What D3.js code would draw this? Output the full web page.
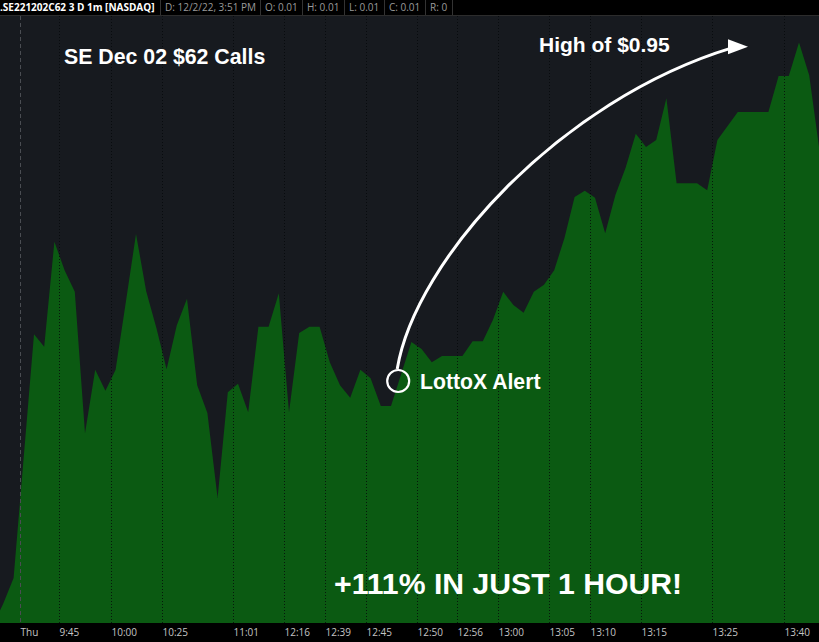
<!DOCTYPE html>
<html>
<head>
<meta charset="utf-8">
<script src="https://cdn.jsdelivr.net/npm/d3@7"></script>
<style>
  html, body { margin: 0; padding: 0; background: #000; }
  svg { display: block; }
</style>
</head>
<body>
<svg id="chart" width="819" height="642"></svg>
<script>
// ---- data (1-minute bars) ----
const prices = [
  0.116, 0.147, 0.183, 0.358, 0.533, 0.515, 0.666, 0.625, 0.594, 0.391,
  0.482, 0.452, 0.482, 0.579, 0.677, 0.595, 0.542, 0.483, 0.546, 0.584,
  0.460, 0.420, 0.298, 0.450, 0.462, 0.421, 0.544, 0.544, 0.592, 0.421,
  0.535, 0.544, 0.544, 0.493, 0.460, 0.442, 0.482, 0.470, 0.430, 0.430,
  0.476, 0.522, 0.512, 0.493, 0.502, 0.502, 0.502, 0.523, 0.523, 0.554,
  0.594, 0.575, 0.564, 0.594, 0.604, 0.625, 0.671, 0.730, 0.739, 0.729,
  0.678, 0.733, 0.772, 0.821, 0.802, 0.812, 0.872, 0.750, 0.750, 0.750,
  0.740, 0.812, 0.832, 0.852, 0.852, 0.852, 0.852, 0.904, 0.904, 0.952,
  0.905, 0.798
];
const tickLabels = ["Thu","9:45","10:00","10:25","11:01","12:16","12:39","12:45","12:50","12:56","13:00","13:05","13:10","13:15","13:25","13:40"];
const tickBars   = [2.6, 6.5, 11.5, 16.5, 23.5, 28.5, 32.5, 36.5, 41.5, 45.5, 49.5, 54.5, 58.5, 63.5, 70.5, 77.5];
const headerSymbol = ".SE221202C62 3 D 1m [NASDAQ]";
const headerItems = ["D: 12/2/22, 3:51 PM", "O: 0.01", "H: 0.01", "L: 0.01", "C: 0.01", "R: 0"];
const alertBar = 40;
const highValue = 0.95;
const titleText = "SE Dec 02 $62 Calls";
const highText = "High of $0.95";
const alertText = "LottoX Alert";
const gainText = "+111% IN JUST 1 HOUR!";

// ---- layout ----
const W = 819, H = 642;
const plotTop = 16, plotBottom = 623;
const svg = d3.select("#chart");

const x = d3.scaleLinear().domain([0, prices.length - 1]).range([-6.8, 819.4]);
const y = d3.scaleLinear().domain([0.12, 0.99]).range([622, 16]);

svg.append("defs").append("clipPath").attr("id", "plotClip")
  .append("rect").attr("x", 0).attr("y", plotTop).attr("width", W).attr("height", plotBottom - plotTop);

// background
svg.append("rect").attr("width", W).attr("height", H).attr("fill", "#000");
svg.append("rect").attr("x", 0).attr("y", plotTop).attr("width", W).attr("height", plotBottom - plotTop).attr("fill", "#171a1f");

const plot = svg.append("g").attr("clip-path", "url(#plotClip)");

// area
const area = d3.area()
  .x((d, i) => x(i))
  .y0(plotBottom)
  .y1(d => y(d));
plot.append("path").datum(prices).attr("d", area).attr("fill", "#0b5a12");

// grid lines
plot.selectAll("line.grid").data(tickBars).join("line")
  .attr("class", "grid")
  .attr("x1", d => Math.round(x(d)) + 0.5).attr("x2", d => Math.round(x(d)) + 0.5)
  .attr("y1", plotTop).attr("y2", plotBottom)
  .attr("stroke", (d, i) => i === 0 ? "#4a4d52" : "#05070a")
  .attr("stroke-width", 1)
  .attr("stroke-opacity", (d, i) => i === 0 ? 1 : 0.8)
  .attr("stroke-dasharray", (d, i) => i === 0 ? "4,3" : "1,2");

// bottom axis
const axisG = svg.append("g").attr("transform", `translate(0,${plotBottom})`);
axisG.append("rect").attr("width", W).attr("height", H - plotBottom).attr("fill", "#000");
axisG.selectAll("text").data(tickBars).join("text")
  .attr("x", d => Math.round(x(d)) + 0.5)
  .attr("y", 13)
  .attr("fill", "#c4c4c4")
  .attr("font-family", "'Open Sans', 'DejaVu Sans', sans-serif")
  .attr("font-size", 10)
  .text((d, i) => tickLabels[i]);

// header
const header = svg.append("g");
header.append("rect").attr("width", W).attr("height", plotTop).attr("fill", "#000");
header.append("line").attr("x1", 0).attr("x2", W).attr("y1", 15.5).attr("y2", 15.5).attr("stroke", "#2c2c2c");
const symT = header.append("text").attr("x", 0).attr("y", 11)
  .attr("fill", "#fff").attr("font-weight", "bold")
  .attr("font-family", "'Open Sans', 'DejaVu Sans', sans-serif").attr("font-size", 10)
  .text(headerSymbol);
let cursor = Math.max(160, Math.ceil(symT.node().getComputedTextLength()) + 4);
header.append("line").attr("x1", cursor + 0.5).attr("x2", cursor + 0.5).attr("y1", 0).attr("y2", 15).attr("stroke", "#333");
headerItems.forEach(txt => {
  const t = header.append("text").attr("x", cursor + 5).attr("y", 11)
    .attr("fill", "#9a9a9a")
    .attr("font-family", "'Open Sans', 'DejaVu Sans', sans-serif").attr("font-size", 10)
    .text(txt);
  cursor = cursor + 5 + Math.ceil(t.node().getComputedTextLength()) + 4;
  header.append("line").attr("x1", cursor + 0.5).attr("x2", cursor + 0.5).attr("y1", 0).attr("y2", 15).attr("stroke", "#333");
});

// annotations
const ann = svg.append("g").attr("font-family", "'Liberation Sans', Arial, sans-serif").attr("font-weight", "bold").attr("fill", "#fff");
ann.append("text").attr("x", 64).attr("y", 64).attr("font-size", 21.3).text(titleText);
ann.append("text").attr("x", 539).attr("y", 52).attr("font-size", 21).text(highText);
ann.append("text").attr("x", 420).attr("y", 389).attr("font-size", 21.2).text(alertText);
ann.append("text").attr("x", 334).attr("y", 594).attr("font-size", 30.2).text(gainText);

// alert circle
const cx = x(alertBar) - 3, cy = 381;
svg.append("circle").attr("cx", cx).attr("cy", cy).attr("r", 11)
  .attr("fill", "none").attr("stroke", "#fff").attr("stroke-width", 2.2);

// curved arrow to the high
const hy = y(highValue);
const tipX = 748, tipY = hy + 3;
const p = d3.path();
p.moveTo(cx - 1, cy - 12);
p.bezierCurveTo(cx + 17, 260, 560, 100, tipX - 16, tipY + 1);
svg.append("path").attr("d", p.toString()).attr("fill", "none").attr("stroke", "#fff").attr("stroke-width", 3);
svg.append("path")
  .attr("d", `M${tipX},${tipY} L${tipX - 20},${tipY - 7.5} L${tipX - 20},${tipY + 7.5} Z`)
  .attr("fill", "#fff");
</script>
</body>
</html>
